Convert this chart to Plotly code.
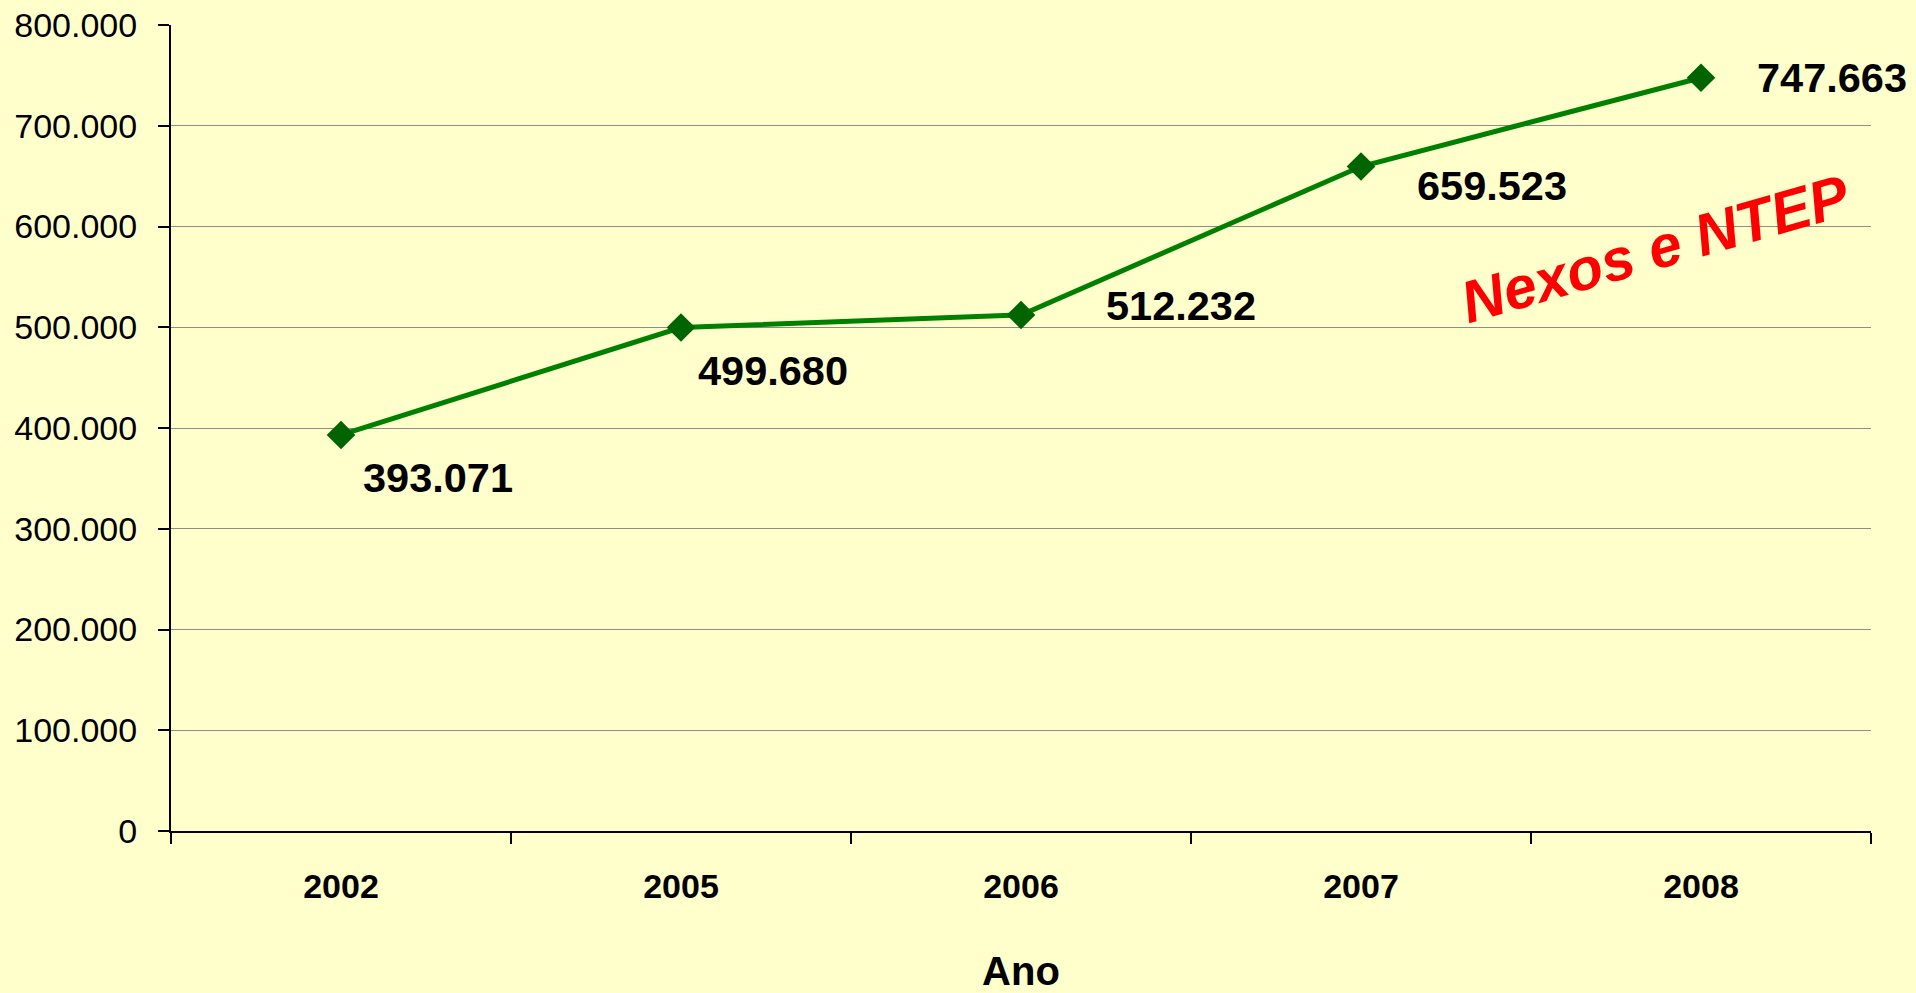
import plotly.graph_objects as go

anos = ["2002", "2005", "2006", "2007", "2008"]
valores = [393071, 499680, 512232, 659523, 747663]
rotulos = ["393.071", "499.680", "512.232", "659.523", "747.663"]
y_ticks = [0, 100000, 200000, 300000, 400000, 500000, 600000, 700000, 800000]
y_tick_labels = ["0", "100.000", "200.000", "300.000", "400.000", "500.000", "600.000", "700.000", "800.000"]

# label offsets (pixels): left edge dx, vertical center dy (down positive)
label_dx = [23, 18, 86, 57, 57]
label_dy = [43, 43, -9, 19, 0]

FONT = "Liberation Sans, Arial, sans-serif"

fig = go.Figure()
fig.add_trace(go.Scatter(
    x=anos, y=valores, mode="lines+markers",
    line=dict(color="#008000", width=5),
    marker=dict(symbol="diamond", size=22, color="#006400", line=dict(width=0)),
    hoverinfo="skip", showlegend=False,
))

annotations = []
for i, (v, t, dx, dy) in enumerate(zip(valores, rotulos, label_dx, label_dy)):
    annotations.append(dict(
        x=i, y=v, xref="x", yref="y", text="<b>%s</b>" % t, showarrow=False,
        xanchor="left", yanchor="middle", xshift=dx - 3, yshift=-dy,
        font=dict(family=FONT, size=41.5, color="#000000"),
    ))

annotations.append(dict(
    x=0.8735, y=0.722, xref="paper", yref="paper",
    text="<b><i>Nexos e NTEP</i></b>", showarrow=False, textangle=-16,
    xanchor="center", yanchor="middle",
    font=dict(family=FONT, size=59, color="#FF0000"),
))

fig.update_layout(
    width=1916, height=993,
    paper_bgcolor="#FFFFCC", plot_bgcolor="#FFFFCC",
    margin=dict(l=171, r=45, t=25, b=162),
    annotations=annotations,
    font=dict(family=FONT, color="#000000"),
)

fig.update_xaxes(
    type="category", categoryorder="array", categoryarray=anos,
    tickson="boundaries", ticks="outside", ticklen=11, tickwidth=2, tickcolor="#000000",
    showline=True, linecolor="#000000", linewidth=2,
    showgrid=False, zeroline=False, automargin=False,
    tickfont=dict(family=FONT, size=34, color="#000000"),
    tickvals=anos, ticktext=["<b>%s</b>" % a for a in anos],
    ticklabelstandoff=24,
    title=dict(text="<b>Ano</b>", font=dict(family=FONT, size=40, color="#000000"), standoff=62),
    range=[-0.5, 4.5],
)

fig.update_yaxes(
    range=[0, 800000], tickvals=y_ticks, ticktext=y_tick_labels,
    ticks="outside", ticklen=11, tickwidth=2, tickcolor="#000000",
    showline=True, linecolor="#000000", linewidth=2,
    showgrid=True, gridcolor="#8c8c8c", gridwidth=1.3,
    zeroline=False, automargin=False,
    tickfont=dict(family=FONT, size=34, color="#000000"),
    ticklabelstandoff=14,
)

fig.write_html("out.html", config={"displayModeBar": False},
               post_script="document.body.style.margin='0px';document.body.style.overflow='hidden';")
